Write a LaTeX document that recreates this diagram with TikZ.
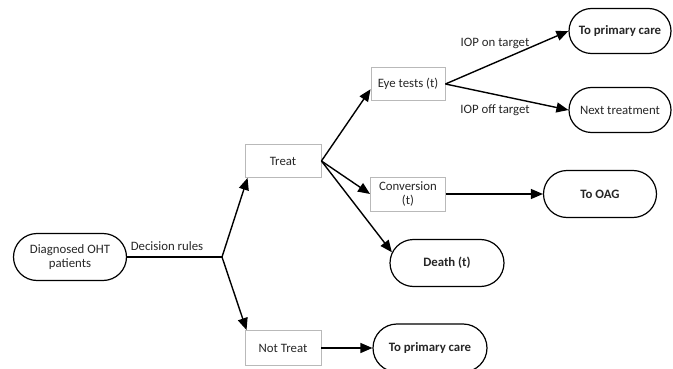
\documentclass[tikz,border=0pt]{standalone}
\usepackage{fontspec}
\setmainfont{Carlito}
\usetikzlibrary{arrows.meta,shapes.misc,calc}
\begin{document}
\begin{tikzpicture}[x=1pt,y=-1pt,
  every node/.style={font=\fontsize{12.8}{14}\selectfont, text=black!85},
  boxnode/.style={draw=gray!55, line width=0.9pt, rectangle, align=center, inner sep=1pt},
  endnode/.style={draw=black, line width=1.2pt, rounded rectangle, align=center, inner sep=1pt},
  boldtext/.style={font=\fontsize{12.8}{14}\selectfont\bfseries},
  conn/.style={line width=1.4pt, draw=black},
  arr/.style={conn, -{Triangle[length=12pt,width=10pt]}},
  lbl/.style={inner sep=0pt}
]
\useasboundingbox (0,0) rectangle (673,369);
\node[endnode, minimum width=115pt, minimum height=47pt] (diag) at (70,257) {Diagnosed OHT\\patients};
\node[boxnode, minimum width=76pt, minimum height=33pt] (treat) at (283,161) {Treat};
\node[boxnode, minimum width=76pt, minimum height=35pt] (nottreat) at (283,348) {Not Treat};
\node[endnode, boldtext, minimum width=116pt, minimum height=48pt] (pc2) at (430,348) {To primary care};
\node[boxnode, minimum width=74pt, minimum height=33pt] (eye) at (408,84) {Eye tests (t)};
\node[endnode, boldtext, minimum width=104pt, minimum height=45pt] (pc1) at (620,31) {To primary care};
\node[endnode, minimum width=104pt, minimum height=45pt] (next) at (620,110) {Next treatment};
\node[boxnode, minimum width=75pt, minimum height=34pt] (conv) at (408,194) {Conversion\\(t)};
\node[endnode, boldtext, minimum width=115pt, minimum height=47pt] (oag) at (600,194) {To OAG};
\node[endnode, boldtext, minimum width=116pt, minimum height=47pt] (death) at (447,263) {Death (t)};
\coordinate (j) at (222,257);

\draw[conn] (diag.east) -- (j);
\node[lbl] (dr) at (167,246) {Decision rules};
\draw[arr] (j) -- ($(treat.south west)+(3,0)$);
\draw[arr] (j) -- ($(nottreat.north west)+(2,0)$);
\draw[arr] (treat.east) -- (eye.188);
\draw[arr] (treat.east) -- (conv.west);
\draw[arr] (treat.east) -- (death.169);
\draw[arr] (eye.east) -- (pc1.west);
\draw[arr] (eye.east) -- (next.west);
\draw[arr] (conv.east) -- (oag.west);
\draw[arr] (nottreat.east) -- (pc2.west);
\node[lbl] (on) at (495,43) {IOP on target};
\node[lbl] (off) at (495,110) {IOP off target};
\end{tikzpicture}
\end{document}
